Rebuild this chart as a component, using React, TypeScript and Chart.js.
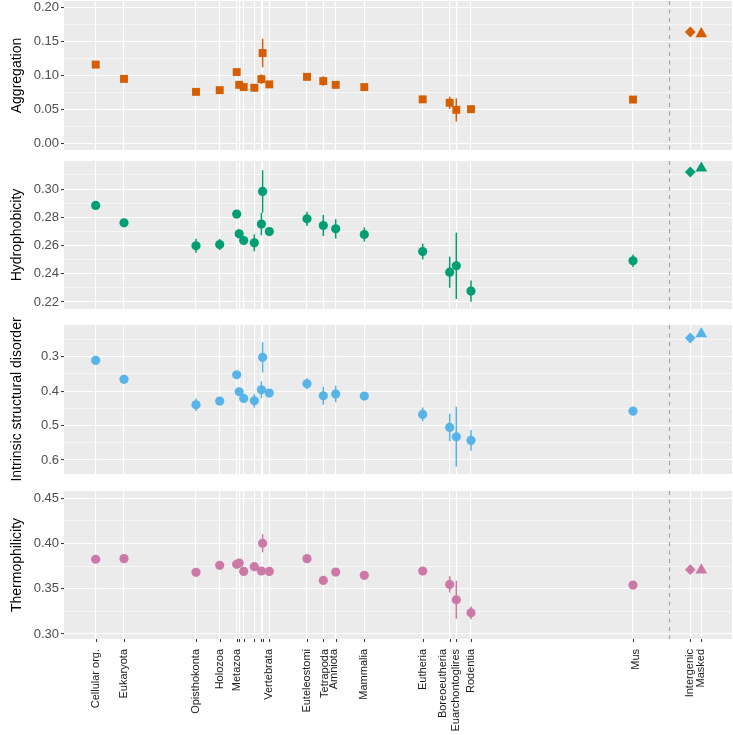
import React, { useEffect, useRef } from 'react';
import { Chart, registerables } from 'chart.js';
Chart.register(...registerables);

// ---------- data ----------
const stageLabels = ['Cellular org.', 'Eukaryota', 'Opisthokonta', 'Holozoa', 'Metazoa', '', '', '', '', '', 'Vertebrata', 'Euteleostomi', 'Tetrapoda', 'Amniota', 'Mammalia', 'Eutheria', 'Boreoeutheria', 'Euarchontoglires', 'Rodentia', 'Mus'];
// position of each stage on the (non-uniform) age axis, arbitrary units
const stagePositions = [31.7, 60, 132, 155.7, 172.7, 175.2, 179.7, 190.3, 197.4, 198.6, 205.3, 243, 259.3, 271.7, 300.3, 358.7, 385.7, 392.3, 407, 569];
const controlLabels = ['Intergenic', 'Masked'];
const controlPositions = [626.3, 637.3];
const separatorPosition = 605;
const axisMin = 0;
const axisMax = 668;

const aggregationValues = [0.116, 0.095, 0.076, 0.0785, 0.105, 0.0863, 0.083, 0.082, 0.0947, 0.133, 0.087, 0.098, 0.0918, 0.0863, 0.083, 0.065, 0.060, 0.0496, 0.0506, 0.0647];
const aggregationErrors = [0.002, 0.002, 0.002, 0.002, 0.003, 0.003, 0.003, 0.003, 0.007, 0.021, 0.003, 0.003, 0.007, 0.005, 0.002, 0.002, 0.009, 0.017, 0.003, 0.002];
const aggregationControls = [0.1638, 0.161];
const aggregationTicks = [0.0, 0.05, 0.10, 0.15, 0.20];

const hydrophobicityValues = [0.2884, 0.2761, 0.2598, 0.2607, 0.2823, 0.2683, 0.2635, 0.2619, 0.2752, 0.2983, 0.2699, 0.2789, 0.2742, 0.2718, 0.2678, 0.2557, 0.2411, 0.2456, 0.2277, 0.2492];
const hydrophobicityErrors = [0.001, 0.001, 0.005, 0.004, 0.002, 0.003, 0.003, 0.006, 0.008, 0.015, 0.003, 0.005, 0.0075, 0.0068, 0.005, 0.0056, 0.011, 0.0235, 0.0075, 0.0045];
const hydrophobicityControls = [0.3121, 0.3148];
const hydrophobicityTicks = [0.22, 0.24, 0.26, 0.28, 0.30];

const disorderValues = [0.3105, 0.3657, 0.4395, 0.4288, 0.3523, 0.4017, 0.421, 0.4279, 0.3959, 0.3017, 0.4055, 0.3785, 0.4134, 0.4084, 0.4142, 0.4675, 0.5053, 0.5326, 0.543, 0.4578];
const disorderErrors = [0.003, 0.004, 0.018, 0.01, 0.005, 0.008, 0.008, 0.02, 0.025, 0.044, 0.006, 0.016, 0.026, 0.024, 0.012, 0.02, 0.04, 0.087, 0.03, 0.012];
const disorderControls = [0.2456, 0.2337];
const disorderTicks = [0.3, 0.4, 0.5, 0.6];

const thermoValues = [0.3826, 0.3833, 0.3681, 0.3759, 0.377, 0.3784, 0.3692, 0.3744, 0.3696, 0.4003, 0.3692, 0.3833, 0.3592, 0.3684, 0.3648, 0.3696, 0.3548, 0.3378, 0.3233, 0.354];
const thermoErrors = [0.002, 0.002, 0.003, 0.003, 0.003, 0.003, 0.003, 0.004, 0.004, 0.010, 0.003, 0.003, 0.003, 0.004, 0.003, 0.003, 0.009, 0.021, 0.007, 0.003];
const thermoControls = [0.3711, 0.3706];
const thermoTicks = [0.30, 0.35, 0.40, 0.45];

// ---------- styling ----------
const FONT = "'Liberation Sans', Arial, Helvetica, sans-serif";
const PAD = 10;
const W = 733;
const H = 735;
const labelNudge: Record<string, number> = { Tetrapoda: 1.5, Amniota: -1.5, Boreoeutheria: -6.5, Mus: 3 };

const panels = [
  { title: 'Aggregation', values: aggregationValues, errors: aggregationErrors, controls: aggregationControls, ticks: aggregationTicks, decimals: 2, min: -0.0093, max: 0.2093, reverse: false, color: '#D55E00', style: 'rect', radius: 5.6, top: 1, bottom: 150 },
  { title: 'Hydrophobicity', values: hydrophobicityValues, errors: hydrophobicityErrors, controls: hydrophobicityControls, ticks: hydrophobicityTicks, decimals: 2, min: 0.2150, max: 0.3199, reverse: false, color: '#009E73', style: 'circle', radius: 4.6, top: 161, bottom: 309 },
  { title: 'Intrinsic structural disorder', values: disorderValues, errors: disorderErrors, controls: disorderControls, ticks: disorderTicks, decimals: 1, min: 0.2078, max: 0.6407, reverse: true, color: '#56B4E9', style: 'circle', radius: 4.6, top: 325, bottom: 474 },
  { title: 'Thermophilicity', values: thermoValues, errors: thermoErrors, controls: thermoControls, ticks: thermoTicks, decimals: 2, min: 0.2944, max: 0.4581, reverse: false, color: '#CC79A7', style: 'circle', radius: 4.6, top: 491, bottom: 639 },
];

function buildYTicks(major: number[], min: number, max: number) {
  const step = major[1] - major[0];
  const out: { value: number; major: boolean }[] = [];
  for (let k = -1; k <= major.length; k++) {
    const v = major[0] + k * step;
    if (v >= min && v <= max) out.push({ value: +v.toFixed(6), major: true });
    const m = v + step / 2;
    if (m >= min && m <= max) out.push({ value: +m.toFixed(6), major: false });
  }
  return out.sort((a, b) => a.value - b.value);
}

function makeChart(canvas: HTMLCanvasElement, p: any, isLast: boolean) {
  const bottomPad = isLast ? H - p.bottom : PAD;
  const yTicks = buildYTicks(p.ticks, p.min, p.max);

  const bgPlugin = {
    id: 'bg',
    beforeDraw(chart: any) {
      const { ctx, chartArea: a } = chart;
      ctx.save();
      ctx.fillStyle = '#EBEBEB';
      ctx.fillRect(a.left, a.top, a.right - a.left, a.bottom - a.top);
      ctx.restore();
    },
  };

  const overlayPlugin = {
    id: 'overlay',
    beforeDatasetsDraw(chart: any) {
      const { ctx, chartArea: a, scales } = chart;
      const xs = scales.x;
      const ys = scales.y;
      ctx.save();
      ctx.beginPath();
      ctx.rect(a.left, a.top, a.right - a.left, a.bottom - a.top);
      ctx.clip();
      // dashed separator
      const sx = Math.round(xs.getPixelForValue(separatorPosition)) + 0.5;
      ctx.strokeStyle = '#A6A6A6';
      ctx.lineWidth = 1.2;
      ctx.setLineDash([4, 4.5]);
      ctx.beginPath();
      ctx.moveTo(sx, a.top);
      ctx.lineTo(sx, a.bottom);
      ctx.stroke();
      ctx.setLineDash([]);
      // error bars
      ctx.strokeStyle = p.color;
      ctx.lineWidth = 1.5;
      stagePositions.forEach((pos: number, i: number) => {
        const e = p.errors[i];
        const x = xs.getPixelForValue(pos);
        ctx.beginPath();
        ctx.moveTo(x, ys.getPixelForValue(p.values[i] - e));
        ctx.lineTo(x, ys.getPixelForValue(p.values[i] + e));
        ctx.stroke();
      });
      ctx.restore();
    },
  };

  const axisPlugin = {
    id: 'xlabels',
    afterDraw(chart: any) {
      if (!isLast) return;
      const { ctx, chartArea: a, scales } = chart;
      const xs = scales.x;
      const labels = stageLabels.concat(controlLabels);
      const positions = stagePositions.concat(controlPositions);
      ctx.save();
      ctx.strokeStyle = '#333333';
      ctx.lineWidth = 1;
      positions.forEach((pos: number) => {
        const x = Math.round(xs.getPixelForValue(pos)) + 0.5;
        ctx.beginPath();
        ctx.moveTo(x, a.bottom);
        ctx.lineTo(x, a.bottom + 3);
        ctx.stroke();
      });
      ctx.fillStyle = '#1A1A1A';
      ctx.font = `11px ${FONT}`;
      ctx.textAlign = 'right';
      ctx.textBaseline = 'middle';
      positions.forEach((pos: number, i: number) => {
        const lab = labels[i];
        if (!lab) return;
        const x = xs.getPixelForValue(pos) + (labelNudge[lab] || 0);
        ctx.save();
        ctx.translate(x, a.bottom + 10);
        ctx.rotate(-Math.PI / 2);
        ctx.fillText(lab, 0, 0);
        ctx.restore();
      });
      ctx.restore();
    },
  };

  return new Chart(canvas, {
    type: 'scatter',
    data: {
      datasets: [
        {
          data: stagePositions.map((x, i) => ({ x, y: p.values[i] })),
          pointStyle: p.style,
          pointRadius: p.radius,
          backgroundColor: p.color,
          borderWidth: 0,
        },
        {
          data: [{ x: controlPositions[0], y: p.controls[0] }],
          pointStyle: 'rectRot',
          pointRadius: 5.4,
          backgroundColor: p.color,
          borderWidth: 0,
        },
        {
          data: [{ x: controlPositions[1], y: p.controls[1] }],
          pointStyle: 'triangle',
          pointRadius: 6.8,
          backgroundColor: p.color,
          borderWidth: 0,
        },
      ],
    },
    options: {
      animation: false,
      responsive: false,
      events: [],
      layout: { autoPadding: false, padding: { top: PAD, bottom: bottomPad, left: 0, right: W - 732 } },
      plugins: { legend: { display: false }, tooltip: { enabled: false } },
      scales: {
        x: {
          type: 'linear',
          min: axisMin,
          max: axisMax,
          afterBuildTicks: (s: any) => {
            s.ticks = stagePositions.concat(controlPositions).map((v) => ({ value: v }));
          },
          ticks: { display: false },
          grid: { color: '#FFFFFF', lineWidth: 1.1, drawTicks: false },
          border: { display: false },
        },
        y: {
          type: 'linear',
          min: p.min,
          max: p.max,
          reverse: p.reverse,
          afterBuildTicks: (s: any) => {
            s.ticks = yTicks.map((t) => ({ value: t.value, major: t.major }));
          },
          afterFit: (s: any) => {
            s.width = 64;
          },
          ticks: {
            autoSkip: false,
            padding: 2,
            color: '#4D4D4D',
            font: { family: FONT, size: 13 },
            callback: (v: any, i: number, ticks: any[]) => (ticks[i] && ticks[i].major ? Number(v).toFixed(p.decimals) : ''),
          },
          grid: {
            color: '#FFFFFF',
            lineWidth: (c: any) => (c.tick && c.tick.major ? 1.1 : 0.55),
            tickColor: (c: any) => (c.tick && c.tick.major ? '#333333' : 'rgba(0,0,0,0)'),
            tickLength: 3,
            tickWidth: 1,
          },
          border: { display: false },
          title: {
            display: true,
            text: p.title,
            color: '#000000',
            font: { family: FONT, size: 14 },
            padding: { top: 9, bottom: 0 },
          },
        },
      },
    },
    plugins: [bgPlugin, overlayPlugin, axisPlugin],
  } as any);
}

export default function App() {
  const refs = [useRef<HTMLCanvasElement>(null), useRef<HTMLCanvasElement>(null), useRef<HTMLCanvasElement>(null), useRef<HTMLCanvasElement>(null)];

  useEffect(() => {
    const charts = panels.map((p, i) => makeChart(refs[i].current as HTMLCanvasElement, p, i === panels.length - 1));
    return () => charts.forEach((c) => c.destroy());
  }, []);

  return (
    <div style={{ position: 'absolute', left: 0, top: 0, width: W, height: H, overflow: 'hidden', background: '#FFFFFF' }}>
      {panels.map((p, i) => {
        const isLast = i === panels.length - 1;
        const top = p.top - PAD;
        const height = isLast ? H - top : p.bottom - p.top + 2 * PAD;
        return (
          <canvas
            key={p.title}
            ref={refs[i]}
            width={W}
            height={height}
            style={{ position: 'absolute', left: 0, top, width: W, height }}
          />
        );
      })}
    </div>
  );
}
